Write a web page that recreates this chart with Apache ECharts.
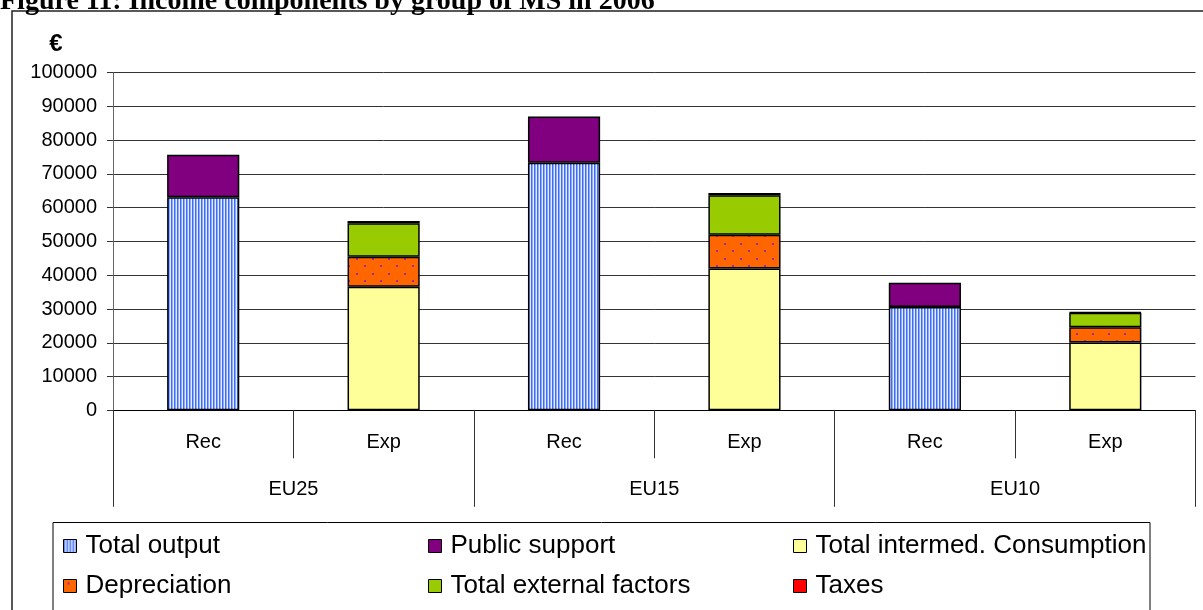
<!DOCTYPE html>
<html>
<head>
<meta charset="utf-8">
<script src="https://cdn.jsdelivr.net/npm/echarts@6/dist/echarts.min.js"></script>
<style>
  html, body { margin: 0; padding: 0; background: #fff; }
  #chart { width: 1203px; height: 610px; }
</style>
</head>
<body>
<div id="chart"></div>
<script>
// Bars: Receipts (Rec) and Expenditure (Exp) per group of Member States, in EUR
const categories = ['Rec', 'Exp', 'Rec', 'Exp', 'Rec', 'Exp'];
const groups = ['EU25', 'EU15', 'EU10'];
const yTicks = { min: 0, max: 100000, interval: 10000 };

const totalOutput         = [63100, null, 73300, null, 30600, null];
const publicSupport       = [12600, null, 13700, null, 7200, null];
const intermedConsumption = [null, 36600, null, 42000, null, 20100];
const depreciation        = [null, 8900, null, 10000, null, 4500];
const externalFactors     = [null, 9900, null, 11700, null, 4300];
const taxes               = [null, 700, null, 700, null, 200];

const seriesNames = ['Total output', 'Public support', 'Total intermed. Consumption',
                     'Depreciation', 'Total external factors', 'Taxes'];

// Vertical stripe fill for "Total output"
function stripePattern() {
  const c = document.createElement('canvas');
  c.width = 3; c.height = 4;
  const g = c.getContext('2d');
  const cols = ['#3d6bff', '#8eabff', '#e6edff'];
  cols.forEach((col, i) => { g.fillStyle = col; g.fillRect(i, 0, 1, 4); });
  return c;
}
// Orange fill with sparse purple dots for "Depreciation"
function dotPattern() {
  const c = document.createElement('canvas');
  c.width = 16; c.height = 15;
  const g = c.getContext('2d');
  g.fillStyle = '#ff6600';
  g.fillRect(0, 0, 16, 15);
  g.fillStyle = '#9a2f9a';
  g.fillRect(4, 3, 2, 2);
  g.fillRect(12, 10, 2, 2);
  return c;
}

const fills = [
  { image: stripePattern(), repeat: 'repeat' },
  '#800080',
  '#ffff99',
  { image: dotPattern(), repeat: 'repeat' },
  '#99cc00',
  '#ff0000'
];
const values = [totalOutput, publicSupport, intermedConsumption, depreciation, externalFactors, taxes];

const FONT = "'Liberation Sans', Arial, sans-serif";

const series = seriesNames.map((name, i) => ({
  name: name,
  type: 'bar',
  stack: 'all',
  barWidth: '40%',
  xAxisIndex: 0,
  data: values[i],
  itemStyle: { color: fills[i], borderColor: '#000', borderWidth: 1.5 },
  emphasis: { disabled: true }
}));

// Legend laid out as a 3 x 2 grid of single-item legends
const legendCols = [63, 428, 793];
const legendRows = [533, 573];
const legends = seriesNames.map((name, i) => ({
  data: [name],
  left: legendCols[i % 3],
  top: legendRows[Math.floor(i / 3)],
  icon: 'rect',
  itemWidth: 13,
  itemHeight: 13,
  selectedMode: false,
  padding: 0,
  itemStyle: { borderColor: '#000', borderWidth: 1 },
  textStyle: { fontFamily: FONT, fontSize: 26, color: '#000', lineHeight: 26, padding: [0, 0, 0, 4] }
}));

const chart = echarts.init(document.getElementById('chart'), null, { renderer: 'canvas' });
chart.setOption({
  backgroundColor: '#fff',
  animation: false,
  grid: { left: 113, right: 7.5, top: 72.7, bottom: 199.7 },
  legend: legends,
  xAxis: [
    {
      type: 'category',
      data: categories,
      position: 'bottom',
      axisLine: { show: true, lineStyle: { color: '#000', width: 1 } },
      axisTick: { show: true, interval: 0, length: 48, lineStyle: { color: '#333', width: 1 } },
      axisLabel: { interval: 0, margin: 22, fontFamily: FONT, fontSize: 20, color: '#000' },
      splitLine: { show: false }
    },
    {
      type: 'category',
      data: groups,
      position: 'bottom',
      axisLine: { show: false },
      axisTick: { show: true, interval: 0, length: 96.5, lineStyle: { color: '#333', width: 1 } },
      axisLabel: { interval: 0, margin: 69, fontFamily: FONT, fontSize: 20, color: '#000' },
      splitLine: { show: false }
    }
  ],
  yAxis: {
    type: 'value',
    min: yTicks.min,
    max: yTicks.max,
    interval: yTicks.interval,
    axisLine: { show: true, lineStyle: { color: '#666', width: 1 } },
    axisTick: { show: true, length: 6, lineStyle: { color: '#333' } },
    axisLabel: { margin: 16, fontFamily: FONT, fontSize: 20, color: '#000',
                 formatter: (v) => String(v) },
    splitLine: { show: true, lineStyle: { color: '#333', width: 1 } }
  },
  graphic: [
    {
      type: 'text', x: 0, y: 2, silent: true,
      style: { text: 'Figure 11: Income components by group of MS in 2006',
               font: "bold 28px 'Liberation Serif', 'Times New Roman', serif",
               fill: '#000', align: 'left', verticalAlign: 'middle' }
    },
    {
      type: 'rect', silent: true, z: -1,
      shape: { x: 12, y: 11, width: 1300, height: 700 },
      style: { fill: 'none', stroke: '#222', lineWidth: 1.5 }
    },
    {
      type: 'text', x: 56, y: 44, silent: true,
      style: { text: '€', font: "bold 24px 'Liberation Sans', Arial, sans-serif",
               fill: '#000', align: 'center', verticalAlign: 'middle' }
    },
    {
      type: 'rect', silent: true, z: -1,
      shape: { x: 53, y: 522.5, width: 1097, height: 200 },
      style: { fill: 'none', stroke: '#000', lineWidth: 1 }
    }
  ],
  series: series
});
</script>
</body>
</html>
